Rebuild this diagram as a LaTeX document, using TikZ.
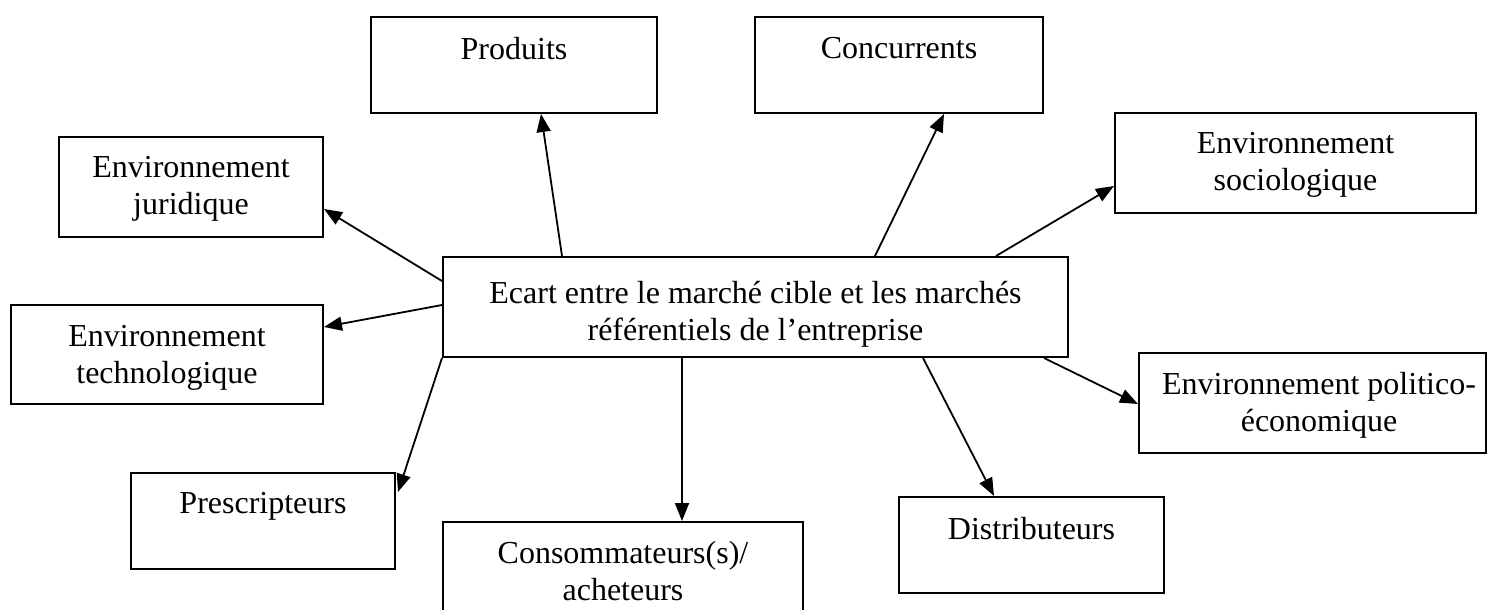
\documentclass[tikz,border=0pt]{standalone}
\usepackage{fontspec}
\setmainfont{Liberation Serif}
\usetikzlibrary{arrows.meta}
\usetikzlibrary{fit}
\usetikzlibrary{calc}

\begin{document}
\begin{tikzpicture}[x=0.5pt, y=-0.5pt,
    boite/.style={draw, line width=1pt, inner sep=0pt},
    texte/.style={anchor=north, inner sep=0pt, align=center, font=\fontsize{16}{18.5}\selectfont},
    fleche/.style={line width=0.9pt, -{Triangle[length=9pt, width=7pt]}}]
    \clip (0,0) rectangle (1490,610);

    % cadre central
    \node[boite, fit={(443,257) (1068,357)}] (centre) {};
    \node[texte] (tcentre) at (755.5,281) {Ecart entre le marché cible et les marchés\\référentiels de l’entreprise};

    % cadres autour
    \node[boite, fit={(371,17) (657,113)}] (produits) {};
    \node[texte] (tproduits) at (514,37) {Produits};
    \node[boite, fit={(755,17) (1043,113)}] (concurrents) {};
    \node[texte] (tconcurrents) at (899,37) {Concurrents};
    \node[boite, fit={(1115,113) (1476,213)}] (socio) {};
    \node[texte] (tsocio) at (1295.5,132) {Environnement\\sociologique};
    \node[boite, fit={(59,137) (323,237)}] (juridique) {};
    \node[texte] (tjuridique) at (191,156) {Environnement\\juridique};
    \node[boite, fit={(11,305) (323,404)}] (techno) {};
    \node[texte] (ttechno) at (167,325) {Environnement\\technologique};
    \node[boite, fit={(1139,353) (1486,453)}] (politico) {};
    \node[texte] (tpolitico) at (1319,372) {Environnement politico-\\économique};
    \node[boite, fit={(131,473) (395,569)}] (prescr) {};
    \node[texte] (tprescr) at (263,492) {Prescripteurs};
    \node[boite, fit={(443,522) (803,625)}] (conso) {};
    \node[texte] (tconso) at (623,541) {Consommateurs(s)/\\acheteurs};
    \node[boite, fit={(899,497) (1164,593)}] (distrib) {};
    \node[texte] (tdistrib) at (1031.5,517) {Distributeurs};

    % fleches
    \draw[fleche] ($(centre.north west)+(120,0)$) -- ($(produits.south west)+(171,0)$);
    \draw[fleche] ($(centre.north west)+(433,0)$) -- ($(concurrents.south west)+(190,0)$);
    \draw[fleche] ($(centre.north east)+(-73,0)$) -- ($(socio.north west)+(0,74)$);
    \draw[fleche] ($(centre.north west)+(0,25)$) -- ($(juridique.north east)+(0,73)$);
    \draw[fleche] ($(centre.north west)+(0,49)$) -- ($(techno.north east)+(0,23)$);
    \draw[fleche] ($(centre.south east)+(-25,0)$) -- ($(politico.north west)+(0,52)$);
    \draw[fleche] (centre.south west) -- ($(prescr.north east)+(2,20)$);
    \draw[fleche] ($(centre.south west)+(240,0)$) -- ($(conso.north west)+(240,0)$);
    \draw[fleche] ($(centre.south west)+(481,0)$) -- ($(distrib.north west)+(96,0)$);
\end{tikzpicture}
\end{document}
